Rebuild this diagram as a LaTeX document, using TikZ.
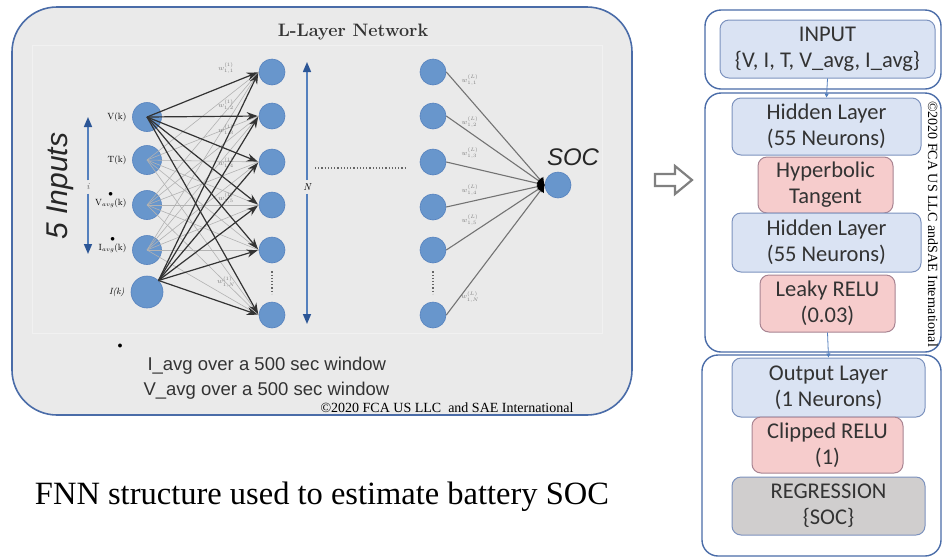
\documentclass[tikz,border=0pt]{standalone}
\usepackage{fontspec}
\usepackage{amsmath}
\usetikzlibrary{arrows.meta, positioning, calc}
\newfontfamily\serifT{Liberation Serif}
\newfontfamily\sansA{Liberation Sans}
\newfontfamily\sansC{Carlito}

\definecolor{neuron}{RGB}{104,150,204}
\definecolor{neuronedge}{RGB}{86,130,190}
\definecolor{panelblue}{RGB}{74,108,168}
\definecolor{panelgray}{RGB}{234,234,234}
\definecolor{axisblue}{RGB}{84,128,190}
\definecolor{axishead}{RGB}{44,86,150}
\definecolor{layerfill}{RGB}{218,227,243}
\definecolor{layeredge}{RGB}{124,146,190}
\definecolor{actfill}{RGB}{246,204,204}
\definecolor{actedge}{RGB}{168,132,146}
\definecolor{regfill}{RGB}{208,206,206}

\tikzset{
  neuron/.style={circle, fill=neuron, draw=neuronedge, line width=0.6pt, minimum size=26pt, inner sep=0pt},
  inneuron/.style={neuron, minimum size=29pt},
  strong/.style={black!80, line width=1.2pt, -{Stealth[length=11pt,width=8pt]}, shorten >=1pt},
  weak/.style={black!30, line width=0.6pt},
  outline/.style={black!55, line width=1.1pt, -{Latex[length=7pt,width=9pt,color=black]}},
  axisarrow/.style={axisblue, line width=1.5pt, -{Triangle[length=10pt,width=8pt,color=axishead]}},
  wlabel/.style={black!50, font=\fontsize{7.5}{8}\selectfont},
  inlabel/.style={font=\fontsize{9}{9}\selectfont, align=center, anchor=east},
  container/.style={draw=panelblue, line width=1.4pt, rounded corners=16pt},
  layerbox/.style={draw=layeredge, fill=layerfill, rounded corners=9pt, line width=1pt, text=black!80,
    font=\sansC\fontsize{22.5}{26}\selectfont, align=center, inner sep=0pt},
  actbox/.style={layerbox, draw=actedge, fill=actfill},
  regbox/.style={layerbox, fill=regfill},
  flow/.style={axisblue, line width=0.8pt, -{Triangle[length=4pt,width=4pt]}}
}

\begin{document}
\begin{tikzpicture}[x=1pt, y=-1pt]
\useasboundingbox (0,0) rectangle (943,558);

% left panel
\draw[draw=panelblue, fill=panelgray, line width=1.6pt, rounded corners=45pt] (12,7) rectangle (632,415);
\draw[white!35!panelgray, line width=0.8pt] (32,45) rectangle (602,333);
\node[font=\bfseries\fontsize{18}{20}\selectfont, black!80] (title) at (353,32) {L-Layer Network};

% input layer
\node[inneuron] (in1) at (147,117) {};
\node[inneuron] (in2) at (147,160) {};
\node[inneuron] (in3) at (147,205) {};
\node[inneuron] (in4) at (147,250) {};
\node[inneuron, minimum size=32pt] (in5) at (147,292) {};
\node[inlabel] (lab1) at (130,117) {V(k)};
\node[inlabel] (lab2) at (130,160) {T(k)};
\node[inlabel] (lab3) at (130,200) {$\bullet$\\V$_{avg}$(k)};
\node[inlabel] (lab4) at (130,245) {$\bullet$\\I$_{avg}$(k)};
\node[inlabel] (lab5) at (128,292) {\itshape I(k)};

% first hidden layer
\foreach \j/\y in {1/72, 2/116, 3/162, 4/205, 5/250, 6/315}
  \node[neuron] (h\j) at (272,\y) {};
% last hidden layer
\foreach \j/\y in {1/72, 2/116, 3/162, 4/207, 5/250, 6/315}
  \node[neuron] (g\j) at (433,\y) {};
\node[neuron] (soc) at (558,185) {};

% connections, input -> first hidden
\foreach \j in {1,...,6} {
  \foreach \i in {2,3,4}
    \draw[weak] (in\i.center) -- (h\j.west);
}
\foreach \j in {1,...,6} {
  \draw[strong] (in1.center) -- (h\j.west);
  \draw[strong] (in5.north east) -- (h\j.west);
}
% connections, last hidden -> output
\foreach \j in {1,...,6}
  \draw[outline] (g\j.east) -- (soc.west);

% weights
\foreach \k/\y in {{1,1}/68, {1,2}/105, {1,3}/130, {1,4}/163, {1,5}/198, {1,N}/282}
  \node[wlabel] at (226,\y) {$w^{(1)}_{\k}$};
\foreach \k/\y in {{1,1}/80, {1,2}/122, {1,3}/153, {1,4}/190, {1,5}/220, {1,N}/297}
  \node[wlabel] at (470,\y) {$w^{(L)}_{\k}$};

% dots
\draw[black!60, line width=1.2pt, dotted] (h5.south) ++(0,8) coordinate (hd1) -- ($(h6.north)+(0,-8)$) coordinate (hd2);
\draw[black!60, line width=1.2pt, dotted] (g5.south) ++(0,8) coordinate (gd1) -- ($(g6.north)+(0,-8)$) coordinate (gd2);
\coordinate (mid1) at (315,168);
\coordinate (mid2) at (407,168);
\draw[black!60, line width=1.2pt, dotted] (mid1) -- (mid2);

% index arrows
\node[font=\itshape\fontsize{9}{9}\selectfont, black!60] (ilab) at (88,187) {i};
\coordinate (itop) at (88,117);
\coordinate (ibot) at (88,254);
\draw[axisarrow] (ilab.north) -- (itop);
\draw[axisarrow] (ilab.south) -- (ibot);
\node[font=\itshape\fontsize{10}{10}\selectfont] (nlab) at (307,187) {N};
\coordinate (ntop) at (307,62);
\coordinate (nbot) at (307,324);
\draw[axisarrow] (nlab.north) -- (ntop);
\draw[axisarrow] (nlab.south) -- (nbot);

\node[font=\sansA\itshape\fontsize{30}{30}\selectfont, black!85, rotate=90] (inputs) at (60,186) {5 Inputs};
\node[font=\sansA\itshape\fontsize{24}{24}\selectfont, black!85] (soclab) at (573,157) {SOC};

% notes
\node[font=\fontsize{10}{10}\selectfont] (bul) at (120,346) {$\bullet$};
\node[font=\sansA\fontsize{18.5}{22}\selectfont, anchor=west, black!80] (note1) at (144,366) {I\_avg over a 500 sec window};
\node[font=\sansA\fontsize{18.5}{22}\selectfont, anchor=west, black!80] (note2) at (140,391) {V\_avg over a 500 sec window};
\node[font=\serifT\fontsize{14}{15}\selectfont, anchor=east] (copy1) at (577,408) {©2020 FCA US LLC\ \ and SAE International};

\node[font=\serifT\fontsize{32.5}{36}\selectfont] (caption) at (322,497) {FNN structure used to estimate battery SOC};

% arrow between the two parts
\draw[black!50, line width=2.2pt, fill=white, line join=miter]
  (655,174) -- (675,174) -- (675,166) -- (692,180) -- (675,194) -- (675,186) -- (655,186) -- cycle;

% right panel
\draw[container] (705,10) rectangle (941,89);
\draw[container] (705,93) rectangle (941,352);
\draw[container] (702,355) rectangle (941,556);

\node[layerbox, minimum width=215pt, minimum height=58pt] (input) at (827.5,49) {INPUT\\\{V, I, T, V\_avg, I\_avg\}};
\node[layerbox, minimum width=189pt, minimum height=57pt] (hid1) at (826.5,126.5) {Hidden Layer\\(55 Neurons)};
\node[actbox, minimum width=135pt, minimum height=56pt] (tanh) at (825.5,185) {Hyperbolic\\Tangent};
\node[layerbox, minimum width=189pt, minimum height=59pt] (hid2) at (826.5,242.5) {Hidden Layer\\(55 Neurons)};
\node[actbox, minimum width=135pt, minimum height=57pt] (leaky) at (827.5,303.5) {Leaky RELU\\(0.03)};
\node[layerbox, minimum width=193pt, minimum height=59pt] (outl) at (828.5,387.5) {Output Layer\\(1 Neurons)};
\node[actbox, minimum width=151pt, minimum height=56pt] (clip) at (827.5,445) {Clipped RELU\\(1)};
\node[regbox, minimum width=193pt, minimum height=58pt] (reg) at (828.5,506) {REGRESSION\\\{SOC\}};

\draw[flow] (input.south) -- (hid1.north);
\draw[flow] (leaky.south) -- (outl.north);

\node[font=\serifT\fontsize{14}{15}\selectfont, rotate=-90] (copy2) at (933,224) {©2020 FCA US LLC andSAE International};
\end{tikzpicture}
\end{document}
